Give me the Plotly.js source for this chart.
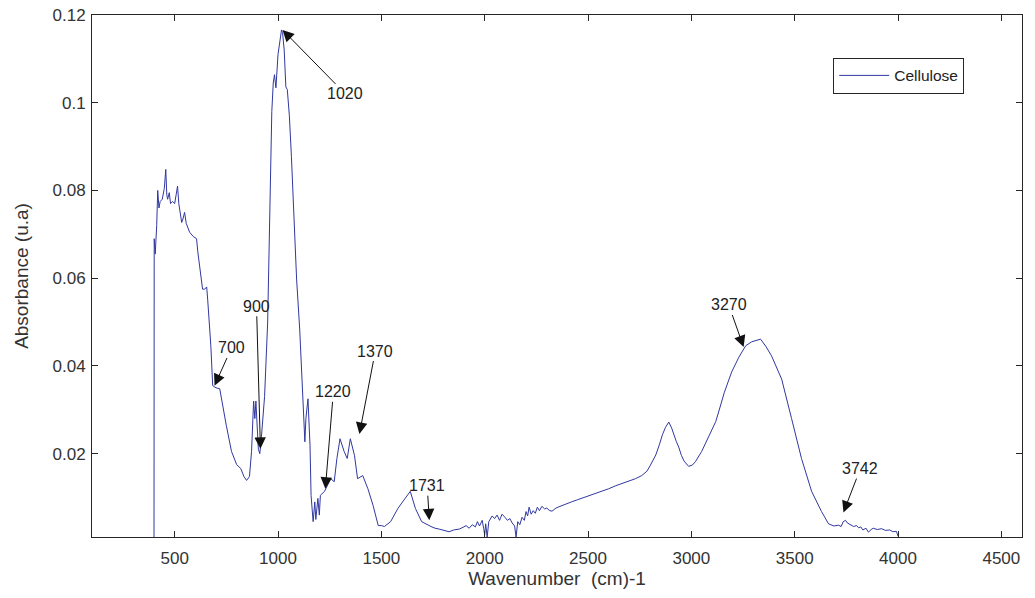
<!DOCTYPE html>
<html><head><meta charset="utf-8">
<script src="https://cdn.plot.ly/plotly-3.0.1.min.js"></script>
<style>body{margin:0;background:#fff}#plot{width:1035px;height:598px}</style>
</head><body><div id="plot"></div>
<script>
const wavenumber = [400,401,406,413,418,424,430,440,450,457,462,466,474,480,490,500,507,514,520,534,540,548,556,572,590,606,612,621,635,645,655,660,668,675,684,700,718,735,750,775,800,820,835,848,862,872,882,888,893,905,912,920,935,950,960,970,977,983,990,1000,1017,1022,1030,1038,1045,1055,1065,1073,1090,1105,1120,1130,1135,1145,1155,1160,1170,1178,1183,1193,1200,1205,1225,1240,1255,1272,1285,1300,1320,1335,1350,1370,1385,1410,1435,1460,1485,1500,1515,1545,1580,1615,1640,1665,1695,1740,1760,1780,1800,1828,1850,1877,1895,1910,1925,1940,1955,1965,1975,1988,1995,2000,2005,2012,2020,2036,2048,2060,2072,2084,2098,2110,2122,2133,2145,2152,2160,2170,2181,2192,2200,2208,2215,2225,2235,2245,2255,2265,2277,2290,2300,2315,2326,2345,2360,2375,2393,2420,2450,2475,2504,2535,2570,2600,2635,2670,2700,2730,2760,2785,2800,2815,2828,2845,2860,2875,2891,2905,2915,2927,2939,2952,2965,2987,3005,3020,3050,3085,3118,3132,3160,3195,3230,3263,3292,3335,3360,3388,3437,3485,3533,3582,3630,3664,3690,3712,3725,3735,3746,3755,3770,3785,3800,3809,3820,3830,3845,3857,3870,3880,3900,3920,3940,3960,3975,3992,4000];
const absorbance = [0.0,0.069,0.0655,0.072,0.080,0.076,0.0775,0.078,0.0805,0.0848,0.079,0.078,0.0795,0.077,0.0775,0.077,0.079,0.081,0.077,0.0727,0.0735,0.075,0.0725,0.0705,0.0695,0.069,0.066,0.0627,0.0575,0.0575,0.058,0.055,0.05,0.0446,0.0355,0.035,0.0348,0.03,0.0264,0.0205,0.0175,0.0166,0.0148,0.0139,0.0148,0.0205,0.032,0.028,0.032,0.021,0.020,0.024,0.033,0.05,0.075,0.098,0.1045,0.1064,0.1034,0.111,0.1166,0.116,0.112,0.1036,0.103,0.097,0.0877,0.0786,0.0598,0.0484,0.0348,0.0227,0.028,0.0325,0.0218,0.0105,0.0045,0.009,0.005,0.0098,0.006,0.0105,0.0114,0.0127,0.0143,0.0136,0.0189,0.0234,0.0205,0.0189,0.0234,0.0196,0.0143,0.015,0.012,0.0082,0.0036,0.0036,0.0034,0.0045,0.0075,0.0098,0.0114,0.0075,0.0045,0.0034,0.003,0.0028,0.0025,0.0022,0.0026,0.0028,0.0032,0.0036,0.003,0.0038,0.0033,0.0045,0.0035,0.0048,0.003,0.0015,0.004,0.001,0.0045,0.0058,0.0052,0.006,0.0048,0.0062,0.0055,0.0048,0.0052,0.0042,0.0035,0.001,0.0045,0.0038,0.0055,0.0048,0.0068,0.0058,0.0078,0.0062,0.007,0.0064,0.0078,0.007,0.008,0.0074,0.0076,0.007,0.0069,0.0076,0.0079,0.0082,0.0086,0.009,0.0095,0.0099,0.0104,0.0108,0.0114,0.012,0.0127,0.0133,0.0138,0.0143,0.015,0.016,0.0172,0.0185,0.0197,0.022,0.0243,0.026,0.0272,0.0258,0.0243,0.0228,0.0215,0.0196,0.0183,0.0171,0.0174,0.0182,0.0205,0.024,0.0273,0.0295,0.034,0.0386,0.042,0.0446,0.0455,0.0461,0.0445,0.0423,0.037,0.028,0.0189,0.0114,0.0068,0.004,0.0035,0.0037,0.0034,0.0045,0.0048,0.0042,0.0038,0.0034,0.0036,0.0031,0.0033,0.0026,0.003,0.0021,0.0027,0.003,0.0027,0.0029,0.0025,0.0026,0.0022,0.0023,0.0012];

const peakLabels = ['1020','900','700','1220','1370','1731','3270','3742'];
const peakTipX = [1022,915,693,1229,1394,1732,3253,3736];
const peakTipY = [0.1166,0.0211,0.0355,0.012,0.0245,0.0048,0.0443,0.0066];
const labelX = [1326,896,775,1268,1471,1722,3181,3818];
const labelY = [0.102,0.0536,0.0441,0.0341,0.0434,0.0127,0.0539,0.0166];

const xTicks = [500,1000,1500,2000,2500,3000,3500,4000,4500];
const yTicks = [0.02,0.04,0.06,0.08,0.1,0.12];
const yTickText = ['0.02','0.04','0.06','0.08','0.1','0.12'];

const FONT = 'Liberation Sans, Arial, sans-serif';

const annotations = peakLabels.map((t,i)=>({
  x: peakTipX[i], y: peakTipY[i], xref:'x', yref:'y',
  ax: labelX[i], ay: labelY[i], axref:'x', ayref:'y',
  text: t, showarrow: true, arrowhead: 2, arrowsize: 2.3, arrowwidth: 1,
  arrowcolor: '#111', standoff: 0, startstandoff: 0,
  font: {family: FONT, size: 16, color:'#222'}
}));

const axisCommon = {
  showline: true, linecolor: '#262626', linewidth: 1, mirror: 'ticks',
  ticks: 'inside', ticklen: 6, tickcolor: '#262626', showgrid: false, zeroline: false,
  tickfont: {family: FONT, size: 17, color:'#333'}
};

Plotly.newPlot('plot', [{
  x: wavenumber, y: absorbance, type: 'scatter', mode: 'lines', name: 'Cellulose',
  line: {color: '#3038a0', width: 1}
}], {
  width: 1035, height: 598,
  margin: {l: 92, r: 13, t: 15, b: 61},
  paper_bgcolor: '#fff', plot_bgcolor: '#fff',
  font: {family: FONT},
  xaxis: Object.assign({}, axisCommon, {
    range: [100, 4600], tickvals: xTicks, ticklabelstandoff: 6,
    title: {text: 'Wavenumber\u00a0\u00a0(cm)-1', standoff: 4, font: {size: 19, color:'#333'}}
  }),
  yaxis: Object.assign({}, axisCommon, {
    range: [0.001, 0.12], tickvals: yTicks, ticktext: yTickText, ticklabelstandoff: 2,
    title: {text: 'Absorbance (u.a)', standoff: 18, font: {size: 19, color:'#333'}}
  }),
  showlegend: true,
  legend: {x: 0.797, y: 0.918, xanchor: 'left', yanchor: 'top', bordercolor: '#262626', borderwidth: 1,
    bgcolor: '#fff', font: {family: FONT, size: 15.5, color:'#222'},
    tracegroupgap: 0, itemwidth: 50},
  annotations: annotations
}, {displayModeBar: false});
</script></body></html>
